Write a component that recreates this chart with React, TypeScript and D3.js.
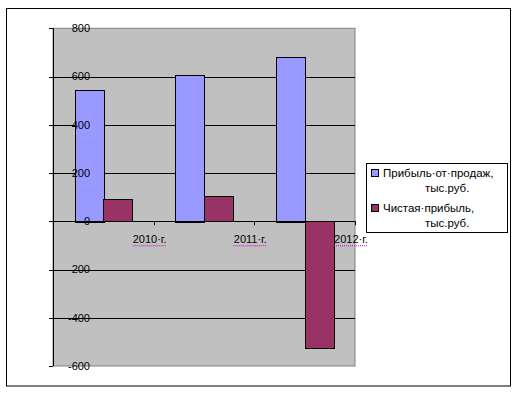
import React from "react";
import * as d3 from "d3";

const categories = ["2010·г.", "2011·г.", "2012·г."];
const seriesNames = [["Прибыль·от·продаж,", "тыс.руб."], ["Чистая·прибыль,", "тыс.руб."]];
const salesProfit = [546, 608, 682];
const netProfit = [91, 105, -526];
const yTicks = [800, 600, 400, 200, 0, -200, -400, -600];
const colors = ["#9999FF", "#993366"];

export default function App() {
  const W = 519, H = 396;
  const left = 53, right = 355, top = 28.3, bottom = 366;
  const x = d3.scaleBand<string>().domain(categories).range([left, right]).paddingInner(0).paddingOuter(0);
  const y = d3.scaleLinear().domain([-600, 800]).range([bottom, top]);
  const bw = x.bandwidth();
  const barW = bw / 3.5;
  const series = [salesProfit, netProfit];
  const font = "'Liberation Sans', Arial, sans-serif";
  return (
    <svg width={W} height={H} style={{ position: "absolute", left: 0, top: 0 }}>
      <rect x={0} y={0} width={W} height={H} fill="#fff" />
      <rect x={6.5} y={8.5} width={504} height={377.5} fill="#fff" stroke="#000" strokeWidth={1} />
      <rect x={left} y={top} width={right - left} height={bottom - top} fill="#C0C0C0" stroke="#808080" strokeWidth={1} />
      {yTicks.filter(t => t !== 800 && t !== -600).map(t => (
        <line key={t} x1={left} x2={right} y1={Math.round(y(t)) + 0.5} y2={Math.round(y(t)) + 0.5} stroke="#000" />
      ))}
      {series.map((vals, si) =>
        vals.map((v, i) => {
          const x0 = (x(categories[i]) as number) + (bw - 2 * barW) / 2 + si * barW;
          const y0 = y(Math.max(0, v));
          const h = Math.abs(y(v) - y(0));
          return (
            <rect key={si + "-" + i} x={Math.round(x0) + 0.5} y={Math.round(y0) + 0.5} width={Math.round(barW)} height={Math.round(h)}
              fill={colors[si]} stroke="#000" strokeWidth={1} />
          );
        })
      )}
      <line x1={left + 0.5} x2={left + 0.5} y1={top} y2={bottom} stroke="#000" />
      {yTicks.map(t => (
        <line key={"t" + t} x1={left - 4} x2={left} y1={Math.round(y(t)) + 0.5} y2={Math.round(y(t)) + 0.5} stroke="#000" />
      ))}
      {yTicks.map(t => (
        <text key={"l" + t} x={90} y={y(t)} dy="0.35em" textAnchor="end" fontFamily={font} fontSize={11} fill="#000">{t}</text>
      ))}
      <line x1={left} x2={right} y1={Math.round(y(0)) + 0.5} y2={Math.round(y(0)) + 0.5} stroke="#000" />
      {categories.map(c => {
        const xe = Math.round((x(c) as number) + bw) + 0.5;
        return <line key={"ct" + c} x1={xe} x2={xe} y1={y(0)} y2={y(0) + 4} stroke="#000" />;
      })}
      {categories.map(c => {
        const xc = (x(c) as number) + bw - 4;
        return (
          <g key={"cl" + c}>
            <text x={xc} y={y(0) + 18} dy="0.35em" textAnchor="middle" fontFamily={font} fontSize={11} fill="#000">{c}</text>
            <line x1={xc - 17} x2={xc + 17} y1={y(0) + 24.5} y2={y(0) + 24.5} stroke="#CC00CC" strokeDasharray="1,1" strokeWidth={1} />
          </g>
        );
      })}
      <rect x={366.5} y={163.5} width={141} height={69} fill="#fff" stroke="#000" />
      {seriesNames.map((lines, si) => {
        const yy = 173 + si * 35;
        return (
          <g key={"lg" + si}>
            <rect x={371.5} y={yy - 3.5} width={7} height={7} fill={colors[si]} stroke="#000" />
            <text x={383} y={yy} dy="0.35em" fontFamily={font} fontSize={11.5} fill="#000">{lines[0]}</text>
            <text x={425} y={yy + 15} dy="0.35em" fontFamily={font} fontSize={11.5} fill="#000">{lines[1]}</text>
          </g>
        );
      })}
    </svg>
  );
}
